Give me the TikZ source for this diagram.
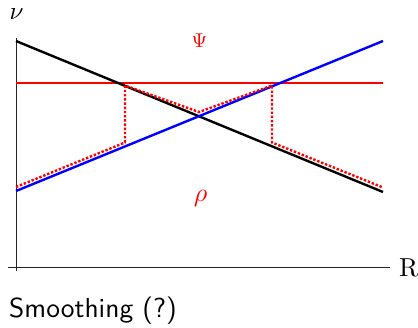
\documentclass[tikz,border=0pt]{standalone}
\usepackage{graphicx}
\begin{document}
\begin{tikzpicture}[x=1pt,y=-1pt,
  axis/.style={line width=1pt,black!85},
  curve/.style={line width=2.4pt},
  smooth red/.style={red,line width=2.4pt,dash pattern=on 2.4pt off 1.8pt},
  lbl/.style={inner sep=0pt}]
\useasboundingbox (0,0) rectangle (418,327);
% axes
\coordinate (yt) at (16,38);
\coordinate (yb) at (16,271);
\coordinate (xl) at (8,267);
\coordinate (xr) at (390,267);
\draw[axis] (yb) -- (yt);
\draw[axis] (xl) -- (xr);
\node[lbl,anchor=west] (R) at (399,267.5) {\scalebox{2.6}{R}};
\node[lbl] (nu) at (16.5,14.5) {\scalebox{2.5}{$\nu$}};
% lines
\coordinate (k1) at (16,41);
\coordinate (k2) at (383,192);
\coordinate (b1) at (16,191);
\coordinate (b2) at (383,41);
\coordinate (r1) at (16,83);
\coordinate (r2) at (383,83);
\draw[curve,red] (r1) -- (r2);
\draw[curve,black] (k1) -- (k2);
\draw[curve,blue] (b1) -- (b2);
% smoothed path
\coordinate (s0) at (16,187);
\coordinate (s1) at (125,142.5);
\coordinate (s2) at (125,85.5);
\coordinate (s3) at (199,112);
\coordinate (s4) at (272,85.5);
\coordinate (s5) at (272,142.5);
\coordinate (s6) at (383,187.5);
\draw[smooth red] (s0) -- (s1) -- (s2) -- (s3) -- (s4) -- (s5) -- (s6);
% labels
\node[lbl,red] (psi) at (199.5,40.5) {\scalebox{2.0}{$\Psi$}};
\node[lbl,red] (rho) at (200.5,198.5) {\scalebox{2.6}{$\rho$}};
\node[lbl,anchor=base west] (cap) at (9,317) {\scalebox{2.75}{\sffamily Smoothing (?)}};
\end{tikzpicture}
\end{document}
